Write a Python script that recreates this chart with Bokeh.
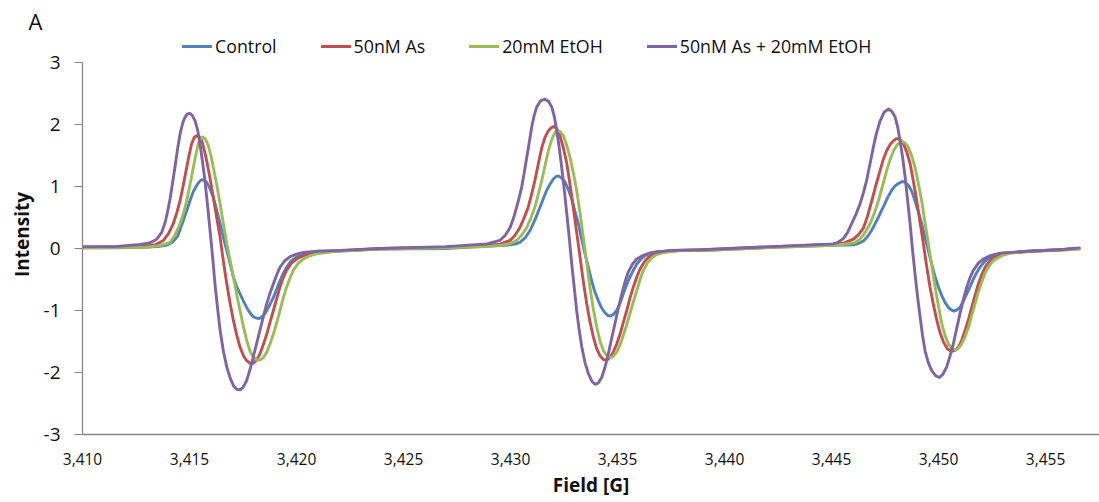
from bokeh.plotting import figure
from bokeh.models import Range1d, FixedTicker, NumeralTickFormatter, Legend, LegendItem
from bokeh.embed import file_html
from bokeh.resources import INLINE

# ---------------- data ----------------
series_names = ["Control", "50nM As", "20mM EtOH", "50nM As + 20mM EtOH"]
series_colors = ["#4F81BD", "#C0504D", "#9BBB59", "#8064A2"]

field_control = [
    3410.0, 3411.5, 3412.7, 3413.5, 3413.9, 3414.2, 3414.45, 3414.71, 3414.87, 3415.02,
    3415.18, 3415.34, 3415.46, 3415.57, 3415.68, 3415.8, 3415.95, 3416.11, 3416.27, 3416.43,
    3416.58, 3416.74, 3416.9, 3417.05, 3417.2, 3417.36, 3417.52, 3417.67, 3417.83, 3417.98,
    3418.1, 3418.22, 3418.37, 3418.53, 3418.72, 3418.92, 3419.08, 3419.23, 3419.38, 3419.54,
    3419.75, 3420.0, 3420.3, 3420.63, 3421.4, 3423.9, 3427.0, 3428.9,
    3429.8, 3430.2, 3430.44, 3430.68, 3430.91, 3431.15, 3431.38, 3431.54, 3431.69, 3431.85,
    3432.0, 3432.12, 3432.23, 3432.38, 3432.55, 3432.7, 3432.86, 3433.0, 3433.17, 3433.32,
    3433.48, 3433.64, 3433.79, 3433.94, 3434.1, 3434.26, 3434.42, 3434.55, 3434.68, 3434.82,
    3434.96, 3435.12, 3435.27, 3435.42, 3435.58, 3435.74, 3435.9, 3436.1, 3436.29, 3436.55,
    3436.83, 3437.92, 3439.17, 3442.28, 3445.08,
    3446.0, 3446.25, 3446.49, 3446.72, 3446.95, 3447.18, 3447.42, 3447.62, 3447.81, 3447.97,
    3448.13, 3448.23, 3448.33, 3448.46, 3448.59, 3448.75, 3448.9, 3449.05, 3449.21, 3449.37,
    3449.52, 3449.68, 3449.84, 3450.0, 3450.15, 3450.3, 3450.46, 3450.59, 3450.72, 3450.86,
    3451.0, 3451.16, 3451.32, 3451.48, 3451.63, 3451.78, 3451.94, 3452.13, 3452.33, 3452.65,
    3453.03, 3454.43, 3455.7, 3456.57]
int_control = [
    0.01, 0.01, 0.02, 0.03, 0.05, 0.10, 0.20, 0.45, 0.61, 0.77,
    0.92, 1.02, 1.08, 1.11, 1.10, 1.07, 0.97, 0.83, 0.62, 0.40,
    0.18, -0.03, -0.25, -0.46, -0.61, -0.73, -0.85, -0.95, -1.04, -1.10,
    -1.12, -1.13, -1.11, -1.05, -0.93, -0.79, -0.65, -0.52, -0.40, -0.30,
    -0.20, -0.14, -0.10, -0.075, -0.05, -0.01, 0.0, 0.04,
    0.05, 0.07, 0.10, 0.17, 0.29, 0.47, 0.67, 0.81, 0.94, 1.04,
    1.12, 1.16, 1.17, 1.14, 1.07, 0.95, 0.80, 0.61, 0.40, 0.16,
    -0.085, -0.31, -0.52, -0.70, -0.84, -0.96, -1.04, -1.08, -1.09, -1.06,
    -1.0, -0.88, -0.73, -0.59, -0.46, -0.35, -0.25, -0.17, -0.11, -0.07,
    -0.05, -0.03, -0.03, 0.02, 0.05,
    0.06, 0.08, 0.12, 0.21, 0.34, 0.50, 0.67, 0.82, 0.94, 1.01,
    1.05, 1.07, 1.08, 1.06, 1.02, 0.92, 0.77, 0.60, 0.40, 0.18,
    -0.03, -0.25, -0.46, -0.63, -0.76, -0.87, -0.95, -0.99, -1.01, -0.99,
    -0.95, -0.85, -0.73, -0.61, -0.49, -0.39, -0.30, -0.22, -0.16, -0.11,
    -0.075, -0.04, -0.02, 0.0]

field_as = [
    3410.0, 3412.7, 3413.4, 3413.78, 3414.02, 3414.24, 3414.4, 3414.56, 3414.72, 3414.87,
    3414.99, 3415.1, 3415.22, 3415.34, 3415.46, 3415.57, 3415.68, 3415.8, 3415.95, 3416.11,
    3416.27, 3416.43, 3416.58, 3416.74, 3416.9, 3417.05, 3417.2, 3417.36, 3417.52, 3417.67,
    3417.82, 3417.98, 3418.13, 3418.29, 3418.45, 3418.61, 3418.76, 3418.92, 3419.08, 3419.23,
    3419.38, 3419.54, 3419.75, 3420.0, 3420.3, 3420.63, 3421.4, 3423.9, 3427.0, 3428.9,
    3429.5, 3429.98, 3430.2, 3430.44, 3430.63, 3430.83, 3430.98, 3431.14, 3431.3, 3431.46,
    3431.62, 3431.77, 3431.91, 3432.05, 3432.18, 3432.31, 3432.47, 3432.63, 3432.78, 3432.93,
    3433.09, 3433.25, 3433.4, 3433.56, 3433.71, 3433.87, 3434.02, 3434.18, 3434.34, 3434.5,
    3434.65, 3434.8, 3434.96, 3435.12, 3435.27, 3435.43, 3435.58, 3435.74, 3435.9, 3436.05,
    3436.24, 3436.44, 3436.7, 3436.99, 3437.92, 3439.17, 3442.28, 3445.08,
    3445.6, 3446.02, 3446.25, 3446.49, 3446.68, 3446.88, 3447.07, 3447.27, 3447.42, 3447.58,
    3447.74, 3447.9, 3448.02, 3448.13, 3448.25, 3448.36, 3448.52, 3448.67, 3448.82, 3448.98,
    3449.13, 3449.29, 3449.44, 3449.6, 3449.76, 3449.92, 3450.07, 3450.23, 3450.42, 3450.62,
    3450.78, 3450.93, 3451.08, 3451.24, 3451.4, 3451.55, 3451.7, 3451.86, 3452.02, 3452.18,
    3452.37, 3452.57, 3452.85, 3453.19, 3454.43, 3455.7, 3456.57]
int_as = [
    0.02, 0.03, 0.06, 0.13, 0.24, 0.40, 0.57, 0.77, 1.04, 1.31,
    1.52, 1.69, 1.79, 1.82, 1.80, 1.74, 1.60, 1.42, 1.15, 0.83,
    0.50, 0.18, -0.20, -0.57, -0.89, -1.16, -1.39, -1.59, -1.73, -1.81,
    -1.85, -1.85, -1.80, -1.70, -1.55, -1.38, -1.19, -1.0, -0.80, -0.62,
    -0.47, -0.35, -0.24, -0.17, -0.12, -0.085, -0.05, 0.0, 0.02, 0.05,
    0.07, 0.13, 0.21, 0.34, 0.49, 0.67, 0.87, 1.10, 1.37, 1.63,
    1.80, 1.90, 1.95, 1.97, 1.92, 1.82, 1.62, 1.37, 1.03, 0.67,
    0.26, -0.14, -0.53, -0.89, -1.18, -1.43, -1.61, -1.73, -1.79, -1.80,
    -1.76, -1.67, -1.54, -1.38, -1.19, -1.0, -0.80, -0.62, -0.46, -0.33,
    -0.22, -0.14, -0.09, -0.06, -0.03, -0.02, 0.03, 0.07,
    0.09, 0.15, 0.22, 0.33, 0.52, 0.77, 1.02, 1.26, 1.44, 1.58,
    1.68, 1.74, 1.77, 1.77, 1.74, 1.69, 1.55, 1.37, 1.09, 0.77,
    0.43, 0.08, -0.28, -0.62, -0.91, -1.16, -1.36, -1.51, -1.62, -1.66,
    -1.64, -1.59, -1.48, -1.32, -1.14, -0.95, -0.76, -0.57, -0.42, -0.30,
    -0.21, -0.15, -0.10, -0.075, -0.04, -0.02, 0.0]

field_etoh = [
    3410.0, 3413.0, 3413.7, 3414.09, 3414.33, 3414.56, 3414.72, 3414.87, 3415.03, 3415.18,
    3415.3, 3415.41, 3415.52, 3415.62, 3415.75, 3415.88, 3416.0, 3416.11, 3416.27, 3416.43,
    3416.58, 3416.74, 3416.9, 3417.05, 3417.2, 3417.36, 3417.52, 3417.67, 3417.82, 3417.98,
    3418.13, 3418.29, 3418.45, 3418.61, 3418.76, 3418.92, 3419.08, 3419.23, 3419.38, 3419.54,
    3419.7, 3419.85, 3420.08, 3420.32, 3420.6, 3420.94, 3421.72, 3423.9, 3427.0, 3428.9,
    3429.8, 3430.05, 3430.29, 3430.53, 3430.76, 3430.95, 3431.14, 3431.3, 3431.46, 3431.62,
    3431.77, 3431.89, 3432.0, 3432.1, 3432.19, 3432.33, 3432.47, 3432.62, 3432.78, 3432.93,
    3433.09, 3433.25, 3433.4, 3433.56, 3433.71, 3433.87, 3434.03, 3434.18, 3434.34, 3434.5,
    3434.65, 3434.8, 3434.96, 3435.12, 3435.27, 3435.43, 3435.58, 3435.74, 3435.9, 3436.05,
    3436.21, 3436.4, 3436.6, 3436.85, 3437.14, 3438.07, 3439.17, 3442.28, 3445.08,
    3445.9, 3446.12, 3446.33, 3446.57, 3446.8, 3447.0, 3447.19, 3447.39, 3447.58, 3447.74,
    3447.9, 3448.08, 3448.28, 3448.44, 3448.59, 3448.75, 3448.9, 3449.05, 3449.21, 3449.36,
    3449.52, 3449.68, 3449.84, 3450.0, 3450.15, 3450.3, 3450.46, 3450.62, 3450.77, 3450.92,
    3451.08, 3451.24, 3451.4, 3451.55, 3451.71, 3451.86, 3452.02, 3452.17, 3452.33, 3452.52,
    3452.72, 3453.0, 3453.34, 3454.59, 3455.7, 3456.57]
int_etoh = [
    0.01, 0.02, 0.05, 0.10, 0.22, 0.40, 0.57, 0.77, 1.04, 1.31,
    1.52, 1.69, 1.77, 1.80, 1.76, 1.66, 1.50, 1.31, 1.03, 0.72,
    0.40, 0.08, -0.20, -0.46, -0.73, -1.0, -1.26, -1.48, -1.65, -1.75,
    -1.79, -1.80, -1.76, -1.67, -1.54, -1.38, -1.19, -1.0, -0.80, -0.62,
    -0.47, -0.35, -0.24, -0.17, -0.12, -0.085, -0.05, -0.01, 0.01, 0.03,
    0.06, 0.09, 0.13, 0.22, 0.34, 0.49, 0.67, 0.88, 1.10, 1.35,
    1.58, 1.72, 1.82, 1.88, 1.90, 1.88, 1.82, 1.67, 1.47, 1.23,
    0.94, 0.57, 0.18, -0.23, -0.62, -0.98, -1.27, -1.49, -1.65, -1.73,
    -1.76, -1.74, -1.67, -1.55, -1.40, -1.23, -1.05, -0.86, -0.68, -0.50,
    -0.35, -0.23, -0.15, -0.095, -0.065, -0.03, -0.03, 0.02, 0.05,
    0.08, 0.10, 0.15, 0.26, 0.40, 0.57, 0.77, 1.02, 1.26, 1.44,
    1.58, 1.68, 1.73, 1.70, 1.63, 1.49, 1.31, 1.06, 0.77, 0.43,
    0.08, -0.28, -0.62, -0.94, -1.21, -1.40, -1.54, -1.61, -1.63, -1.61,
    -1.54, -1.42, -1.27, -1.08, -0.89, -0.70, -0.54, -0.40, -0.30, -0.21,
    -0.16, -0.11, -0.075, -0.04, -0.03, -0.01]

field_mix = [
    3410.0, 3411.5, 3412.69, 3413.0, 3413.2, 3413.47, 3413.7, 3413.86, 3413.98, 3414.09,
    3414.2, 3414.32, 3414.44, 3414.56, 3414.68, 3414.79, 3414.9, 3415.02, 3415.14, 3415.26,
    3415.38, 3415.49, 3415.6, 3415.72, 3415.84, 3415.96, 3416.08, 3416.19, 3416.31, 3416.43,
    3416.58, 3416.74, 3416.9, 3417.05, 3417.2, 3417.36, 3417.5, 3417.67, 3417.82, 3417.98,
    3418.13, 3418.29, 3418.45, 3418.61, 3418.76, 3418.92, 3419.08, 3419.23, 3419.45, 3419.70,
    3420.0, 3420.32, 3421.1, 3422.03, 3423.9, 3427.0, 3428.9,
    3429.5, 3429.75, 3429.98, 3430.14, 3430.29, 3430.41, 3430.52, 3430.64, 3430.76, 3430.88,
    3430.99, 3431.1, 3431.22, 3431.4, 3431.61, 3431.78, 3431.93, 3432.05, 3432.16, 3432.28,
    3432.39, 3432.51, 3432.63, 3432.75, 3432.86, 3432.98, 3433.09, 3433.21, 3433.33, 3433.48,
    3433.64, 3433.8, 3433.95, 3434.1, 3434.26, 3434.41, 3434.57, 3434.72, 3434.88, 3435.04,
    3435.2, 3435.35, 3435.5, 3435.7, 3435.9, 3436.2, 3436.52, 3437.45, 3438.86, 3442.28,
    3445.08, 3445.3, 3445.55, 3445.75, 3445.94, 3446.14, 3446.33, 3446.49, 3446.64, 3446.8,
    3446.95, 3447.1, 3447.27, 3447.46, 3447.66, 3447.82, 3447.97, 3448.09, 3448.2, 3448.32,
    3448.44, 3448.55, 3448.67, 3448.78, 3448.9, 3449.02, 3449.14, 3449.25, 3449.37, 3449.52,
    3449.68, 3449.86, 3450.04, 3450.2, 3450.38, 3450.53, 3450.69, 3450.84, 3451.0, 3451.16,
    3451.32, 3451.47, 3451.63, 3451.85, 3452.09, 3452.45, 3452.87, 3454.12, 3455.68, 3456.57]
int_mix = [
    0.03, 0.03, 0.065, 0.08, 0.10, 0.15, 0.26, 0.42, 0.60, 0.80,
    1.04, 1.31, 1.60, 1.85, 2.02, 2.12, 2.17, 2.18, 2.14, 2.06,
    1.91, 1.69, 1.42, 1.10, 0.71, 0.29, -0.14, -0.57, -0.96, -1.32,
    -1.65, -1.91, -2.09, -2.21, -2.27, -2.28, -2.24, -2.13, -1.96, -1.75,
    -1.54, -1.32, -1.10, -0.89, -0.72, -0.57, -0.42, -0.30, -0.20, -0.13,
    -0.09, -0.065, -0.04, -0.03, 0.0, 0.03, 0.075,
    0.13, 0.21, 0.34, 0.49, 0.67, 0.83, 0.99, 1.22, 1.47, 1.72,
    1.96, 2.14, 2.28, 2.38, 2.41, 2.37, 2.28, 2.12, 1.90, 1.62,
    1.31, 0.95, 0.56, 0.15, -0.25, -0.64, -1.0, -1.32, -1.59, -1.84,
    -2.02, -2.14, -2.19, -2.17, -2.08, -1.92, -1.70, -1.46, -1.21, -0.96,
    -0.73, -0.54, -0.38, -0.25, -0.17, -0.11, -0.075, -0.03, -0.02, 0.03,
    0.075, 0.10, 0.16, 0.26, 0.40, 0.55, 0.72, 0.90, 1.10, 1.37,
    1.63, 1.86, 2.06, 2.20, 2.25, 2.21, 2.12, 1.96, 1.74, 1.47,
    1.15, 0.79, 0.40, -0.01, -0.41, -0.78, -1.11, -1.40, -1.65, -1.84,
    -1.97, -2.05, -2.08, -2.03, -1.91, -1.74, -1.54, -1.30, -1.05, -0.82,
    -0.62, -0.47, -0.35, -0.24, -0.17, -0.11, -0.075, -0.045, -0.02, 0.01]

x_ticks = [3410, 3415, 3420, 3425, 3430, 3435, 3440, 3445, 3450, 3455]
y_ticks = [-3, -2, -1, 0, 1, 2, 3]
y_tick_labels = {t: str(t) for t in y_ticks}

fields = [field_control, field_as, field_etoh, field_mix]
intensities = [int_control, int_as, int_etoh, int_mix]

# ---------------- figure ----------------
FONT = "Open Sans"
TXT = "#111111"
AX = "#868686"

# frame: left 82, right 1099, top 34, bottom 434 (62 px per unit; 3 at y=62)
p = figure(width=1099, height=502, output_backend="svg", toolbar_location=None,
           x_range=Range1d(3410, 3457.52), y_range=Range1d(-3, 3.4516),
           min_border_left=82, min_border_right=0, min_border_top=34, min_border_bottom=68,
           title="A")
p.outline_line_color = None
p.grid.visible = False
p.background_fill_color = "white"
p.border_fill_color = "white"

p.title.align = "left"
p.title.offset = -54
p.title.text_font = FONT
p.title.text_font_size = "22px"
p.title.text_font_style = "normal"
p.title.text_color = TXT
p.title.standoff = -3

renderers = []
for fx, fy, c in zip(fields, intensities, series_colors):
    r = p.line(fx, fy, line_color=c, line_width=2.9, line_join="round", line_cap="round")
    renderers.append(r)

xa = p.xaxis[0]
xa.ticker = FixedTicker(ticks=x_ticks)
xa.formatter = NumeralTickFormatter(format="0,0")
xa.axis_line_color = AX
xa.axis_line_width = 1.3
xa.major_tick_line_color = None
xa.minor_tick_line_color = None
xa.major_tick_out = 0
xa.major_tick_in = 0
xa.major_label_standoff = 18
xa.major_label_text_font = FONT
xa.major_label_text_font_size = "15.5px"
xa.major_label_text_color = TXT
xa.axis_label = "Field [G]"
xa.axis_label_standoff = 4
xa.axis_label_text_font = FONT
xa.axis_label_text_font_size = "19px"
xa.axis_label_text_font_style = "bold"
xa.axis_label_text_color = TXT

ya = p.yaxis[0]
ya.ticker = FixedTicker(ticks=y_ticks)
ya.bounds = (-3, 3)
ya.major_label_overrides = y_tick_labels
ya.axis_line_color = AX
ya.axis_line_width = 1.3
ya.major_tick_line_color = AX
ya.major_tick_out = 8
ya.major_tick_in = 0
ya.minor_tick_line_color = None
ya.major_label_standoff = 14
ya.major_label_text_font = FONT
ya.major_label_text_font_size = "19px"
ya.major_label_text_color = TXT
ya.axis_label = "Intensity"
ya.axis_label_standoff = 6
ya.axis_label_text_font = FONT
ya.axis_label_text_font_size = "19px"
ya.axis_label_text_font_style = "bold"
ya.axis_label_text_color = TXT

legend = Legend(items=[LegendItem(label=n, renderers=[r]) for n, r in zip(series_names, renderers)],
                orientation="horizontal", location=(100, 376),
                glyph_width=30, glyph_height=20, label_standoff=3, spacing=44,
                padding=0, margin=0, border_line_alpha=0, background_fill_alpha=0,
                label_text_font=FONT, label_text_font_size="17.8px", label_text_color=TXT)
p.add_layout(legend)

open("out.html", "w").write(file_html(p, INLINE))
